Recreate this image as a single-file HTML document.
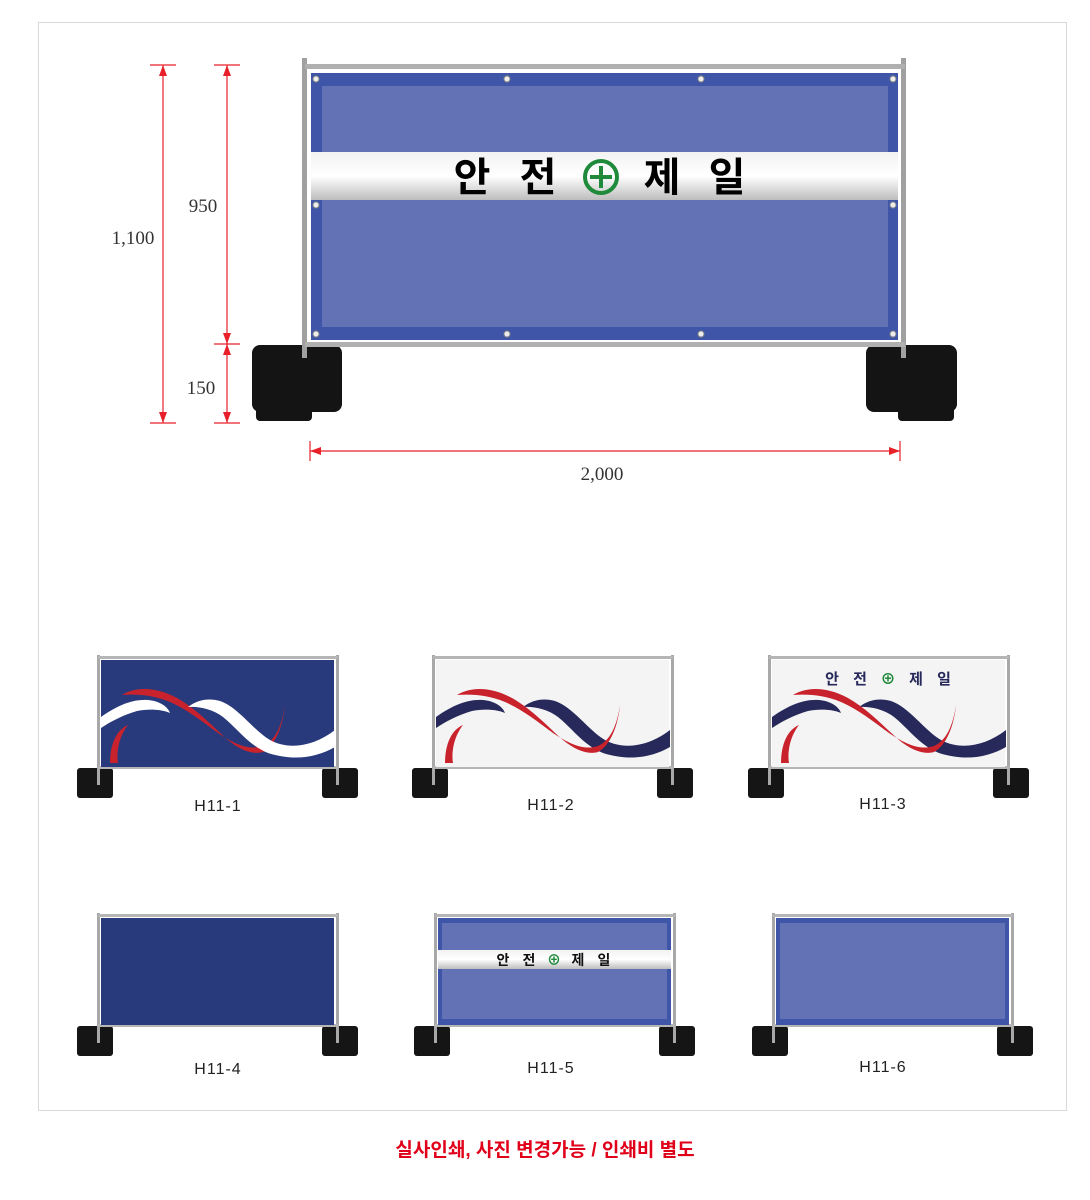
<!DOCTYPE html>
<html><head><meta charset="utf-8"><style>
html,body{margin:0;padding:0;background:#fff;width:1090px;height:1200px;overflow:hidden}
svg{display:block}
.lbl{font-family:"Liberation Sans","Noto Sans CJK KR",sans-serif;font-size:16px;fill:#222;text-anchor:middle;letter-spacing:1px}
.dim{font-family:"Liberation Serif","Noto Serif CJK SC",serif;font-size:19px;fill:#333;text-anchor:middle}
.kr{font-family:"Liberation Sans","Noto Sans CJK KR",sans-serif;font-weight:bold;text-anchor:middle}
</style></head><body>
<svg width="1090" height="1200" viewBox="0 0 1090 1200" xmlns="http://www.w3.org/2000/svg">
<defs>
<linearGradient id="band" x1="0" y1="0" x2="0" y2="1">
<stop offset="0" stop-color="#f2f2f2"/><stop offset="0.5" stop-color="#ffffff"/><stop offset="1" stop-color="#bdbdbd"/></linearGradient>
<g id="frame">
<rect x="-21" y="113" width="36" height="30" rx="3" fill="#151515"/>
<rect x="224" y="113" width="36" height="30" rx="3" fill="#151515"/>
<rect x="-1" y="0" width="3" height="130" fill="#a8a8a8"/>
<rect x="238" y="0" width="3" height="130" fill="#a8a8a8"/>
<rect x="0" y="1" width="240" height="3" fill="#b5b5b5"/>
<rect x="0" y="111" width="240" height="3" fill="#b5b5b5"/>
</g>
<path id="w1" d="M3,62 C20,50 35,44 50,45 C62,46 70,52 72,58 C62,54 50,54 39,56 C25,60 12,67 3,73 Z"/>
<path id="w2" d="M90,52 C100,44 112,43 122,46 C140,52 155,75 172,85 C190,95 215,92 237,75 L237,92 C218,103 195,106 170,98 C150,90 138,72 125,62 C115,54 100,51 90,52 Z"/>
<g id="red" fill="#c8222c">
<path d="M24,40 C35,33 55,30 79,43 C100,55 115,72 130,85 C142,95 155,100 165,97 C178,90 185,70 187,50 C184,70 178,85 165,91 C150,96 135,88 120,78 C105,67 90,55 72,47 C55,40 40,39 24,40 Z"/>
<path d="M12,108 C12,90 18,75 30,70 C22,80 18,95 20,108 Z"/>
</g>
</defs>
<rect x="38.5" y="22.5" width="1028" height="1088" fill="none" stroke="#d8d8d8"/>

<!-- dimensions -->
<g stroke="#e8202a" stroke-width="1.2" fill="#e8202a">
<line x1="150" y1="65" x2="176" y2="65"/><line x1="150" y1="423" x2="176" y2="423"/>
<line x1="163" y1="65" x2="163" y2="423"/>
<line x1="214" y1="65" x2="240" y2="65"/><line x1="214" y1="344" x2="240" y2="344"/><line x1="214" y1="423" x2="240" y2="423"/>
<line x1="227" y1="65" x2="227" y2="423"/>
<path d="M163,65 l-4,11 h8z M163,423 l-4,-11 h8z M227,65 l-4,11 h8z M227,344 l-4,-11 h8z M227,344 l-4,11 h8z M227,423 l-4,-11 h8z" stroke="none"/>
<line x1="310" y1="451" x2="900" y2="451"/>
<line x1="310" y1="441" x2="310" y2="461"/><line x1="900" y1="441" x2="900" y2="461"/>
<path d="M310,451 l11,-4 v8z M900,451 l-11,-4 v8z" stroke="none"/>
</g>
<text class="dim" x="133" y="244">1,100</text>
<text class="dim" x="203" y="212">950</text>
<text class="dim" x="201" y="394">150</text>
<text class="dim" x="602" y="480">2,000</text>

<!-- big fence -->
<rect x="252" y="345" width="90" height="67" rx="8" fill="#141414"/>
<rect x="256" y="400" width="56" height="21" rx="4" fill="#141414"/>
<rect x="866" y="345" width="91" height="67" rx="8" fill="#141414"/>
<rect x="898" y="400" width="56" height="21" rx="4" fill="#141414"/>
<rect x="302" y="58" width="5" height="300" fill="#a0a0a0"/>
<rect x="901" y="58" width="5" height="300" fill="#a0a0a0"/>
<rect x="305" y="64" width="600" height="5" fill="#b0b0b0"/>
<rect x="305" y="342" width="600" height="5" fill="#b0b0b0"/>
<rect x="311" y="73" width="587" height="267" fill="#3f56a8"/>
<rect x="322" y="86" width="566" height="241" fill="#6272b5"/>
<rect x="311" y="152" width="587" height="48" fill="url(#band)"/>
<g class="kr" font-size="40" fill="#000">
<text x="472" y="191">안</text><text x="538" y="191">전</text><text x="662" y="191">제</text><text x="727" y="191">일</text>
</g>
<circle cx="601" cy="177" r="16" fill="none" stroke="#1f8a3a" stroke-width="4"/>
<path d="M601,166 v22 M590,177 h22" stroke="#1f8a3a" stroke-width="4"/>
<g fill="#eee" stroke="#888" stroke-width="1">
<circle cx="316" cy="79" r="3"/><circle cx="507" cy="79" r="3"/><circle cx="701" cy="79" r="3"/><circle cx="893" cy="79" r="3"/>
<circle cx="316" cy="205" r="3"/><circle cx="893" cy="205" r="3"/>
<circle cx="316" cy="334" r="3"/><circle cx="507" cy="334" r="3"/><circle cx="701" cy="334" r="3"/><circle cx="893" cy="334" r="3"/>
</g>

<!-- H11-1 -->
<g transform="translate(98,655)">
<use href="#frame"/>
<rect x="3" y="5" width="233" height="107" fill="#293a7c"/>
<use href="#w1" fill="#fff"/>
<use href="#red"/>
<use href="#w2" fill="#fff"/>
</g>
<text class="lbl" x="218" y="811">H11-1</text>

<!-- H11-2 -->
<g transform="translate(433,655)">
<use href="#frame"/>
<rect x="3" y="5" width="233" height="107" fill="#f4f4f4"/>
<use href="#w1" fill="#26295a"/>
<use href="#w2" fill="#26295a"/>
<use href="#red"/>
</g>
<text class="lbl" x="551" y="810">H11-2</text>

<!-- H11-3 -->
<g transform="translate(769,655)">
<use href="#frame"/>
<rect x="3" y="5" width="233" height="107" fill="#f4f4f4"/>
<use href="#w1" fill="#26295a"/>
<use href="#w2" fill="#26295a"/>
<use href="#red"/>
</g>
<g class="kr" font-size="15" fill="#26295a">
<text x="832" y="684">안</text><text x="860" y="684">전</text><text x="888" y="684" fill="#1f8a3a">⊕</text><text x="916" y="684">제</text><text x="944" y="684">일</text>
</g>
<text class="lbl" x="883" y="809">H11-3</text>

<!-- H11-4 -->
<g transform="translate(98,913)">
<use href="#frame"/>
<rect x="3" y="5" width="233" height="107" fill="#293a7c"/>
</g>
<text class="lbl" x="218" y="1074">H11-4</text>

<!-- H11-5 -->
<g transform="translate(435,913)">
<use href="#frame"/>
<rect x="3" y="5" width="233" height="107" fill="#3f56a8"/>
<rect x="7" y="10" width="225" height="96" fill="#6272b5"/>
<rect x="3" y="37" width="233" height="19" fill="url(#band)"/>
</g>
<g class="kr" font-size="14" fill="#111">
<text x="503" y="965">안</text><text x="529" y="965">전</text><text x="554" y="965" fill="#1f8a3a">⊕</text><text x="578" y="965">제</text><text x="604" y="965">일</text>
</g>
<text class="lbl" x="551" y="1073">H11-5</text>

<!-- H11-6 -->
<g transform="translate(773,913)">
<use href="#frame"/>
<rect x="3" y="5" width="233" height="107" fill="#3f56a8"/>
<rect x="7" y="10" width="225" height="96" fill="#6272b5"/>
</g>
<text class="lbl" x="883" y="1072">H11-6</text>

<text class="kr" x="545" y="1156" font-size="19" fill="#e0001a">실사인쇄, 사진 변경가능 / 인쇄비 별도</text>
</svg>
</body></html>
